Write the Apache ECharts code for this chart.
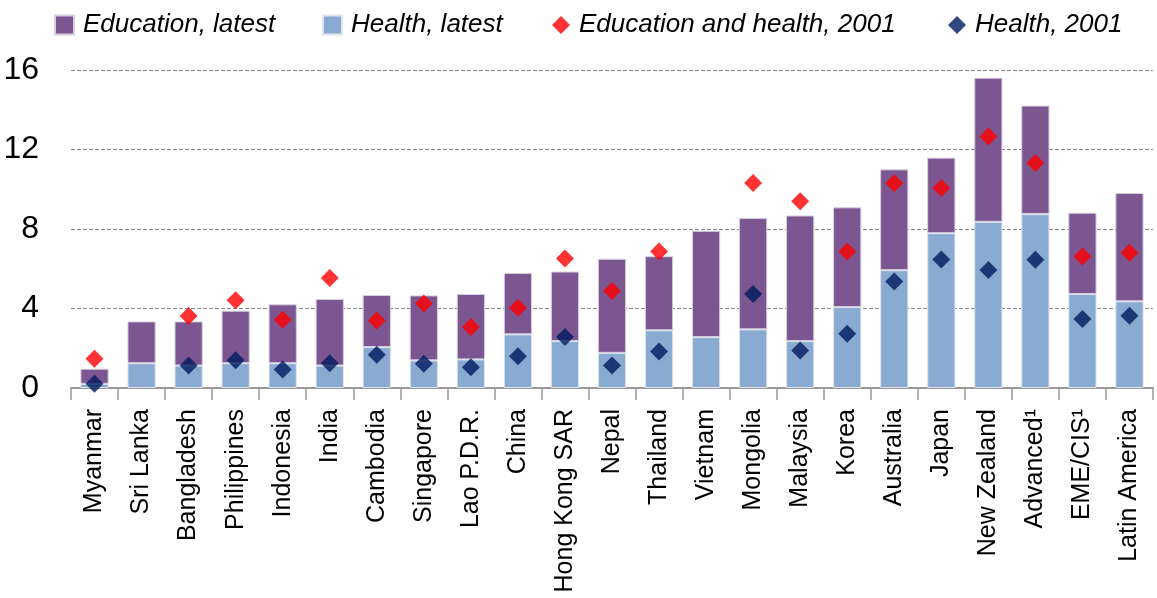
<!DOCTYPE html>
<html><head><meta charset="utf-8">
<script src="https://cdn.jsdelivr.net/npm/echarts@6/dist/echarts.min.js"></script>
<style>html,body{margin:0;padding:0;background:#fff}#c{width:1157px;height:598px}</style>
</head><body><div id="c"></div>
<script>
const categories = ["Myanmar","Sri Lanka","Bangladesh","Philippines","Indonesia","India","Cambodia","Singapore","Lao P.D.R.","China","Hong Kong SAR","Nepal","Thailand","Vietnam","Mongolia","Malaysia","Korea","Australia","Japan","New Zealand","Advanced\u00b9","EME/CIS\u00b9","Latin America"];
// totals (education + health), latest
const totalLatest = [0.97,3.35,3.35,3.89,4.21,4.48,4.68,4.66,4.73,5.79,5.86,6.50,6.63,7.91,8.55,8.68,9.09,11.0,11.59,15.61,14.21,8.82,9.81];
const healthLatest = [0.21,1.25,1.13,1.25,1.25,1.13,2.06,1.39,1.44,2.70,2.36,1.77,2.90,2.56,2.95,2.36,4.07,5.93,7.79,8.36,8.75,4.73,4.36];
const eduHealth2001 = [1.47,null,3.62,4.41,3.44,5.54,3.40,4.25,3.07,4.04,6.51,4.88,6.87,null,10.31,9.40,6.87,10.30,10.06,12.65,11.32,6.62,6.80];
const health2001 = [0.21,null,1.13,1.39,0.93,1.25,1.67,1.22,1.05,1.60,2.56,1.13,1.84,null,4.73,1.89,2.73,5.36,6.46,5.94,6.45,3.47,3.64];
const yTicks = [0,4,8,12,16];

const educationLatest = totalLatest.map((t,i)=>+(t-healthLatest[i]).toFixed(2));
const FONT = '"Liberation Sans",Arial,sans-serif';

function leg(name, icon, left, size){
  return {
    top:12,left:left,padding:0,itemWidth:size,itemHeight:size,
    textStyle:{fontFamily:FONT,fontStyle:'italic',fontSize:26,color:'#000',padding:[0,0,0,4]},
    data:[{name:name,icon:icon}]
  };
}

const chart = echarts.init(document.getElementById('c'));
chart.setOption({
  animation:false,
  textStyle:{fontFamily:FONT},
  legend:[
    leg('Education, latest','rect',54,19),
    leg('Health, latest','rect',322,19),
    leg('Education and health, 2001','diamond',552,18),
    leg('Health, 2001','diamond',948,18)
  ],
  grid:{left:71,right:4,top:70,bottom:210,containLabel:false,outerBoundsMode:'none'},
  xAxis:{
    type:'category',data:categories,
    axisLine:{lineStyle:{color:'#999',width:2}},
    axisTick:{show:true,length:12,lineStyle:{color:'#999',width:1.5}},
    axisLabel:{rotate:90,fontSize:25,color:'#000',fontFamily:FONT,margin:21,interval:0}
  },
  yAxis:{
    type:'value',min:0,max:16,interval:4,
    axisLabel:{fontSize:32,color:'#000',fontFamily:FONT,margin:32},
    splitLine:{lineStyle:{type:[4,2],color:'#888',width:1}},
    axisLine:{show:false},axisTick:{show:false}
  },
  series:[
    {name:'Health, latest',type:'bar',stack:'a',data:healthLatest,barWidth:'60%',
      itemStyle:{color:'#8AABD1',borderColor:'#dfe4ef',borderWidth:1}},
    {name:'Education, latest',type:'bar',stack:'a',data:educationLatest,barWidth:'60%',
      itemStyle:{color:'#7B5690',borderColor:'#d6cfe0',borderWidth:1}},
    {name:'Education and health, 2001',type:'scatter',data:eduHealth2001,symbol:'diamond',symbolSize:[18,18],
      itemStyle:{color:'#FF0000'},z:5},
    {name:'Health, 2001',type:'scatter',data:health2001,symbol:'diamond',symbolSize:[18,18],
      itemStyle:{color:'#001A5E'},z:5}
  ]
});
</script></body></html>
